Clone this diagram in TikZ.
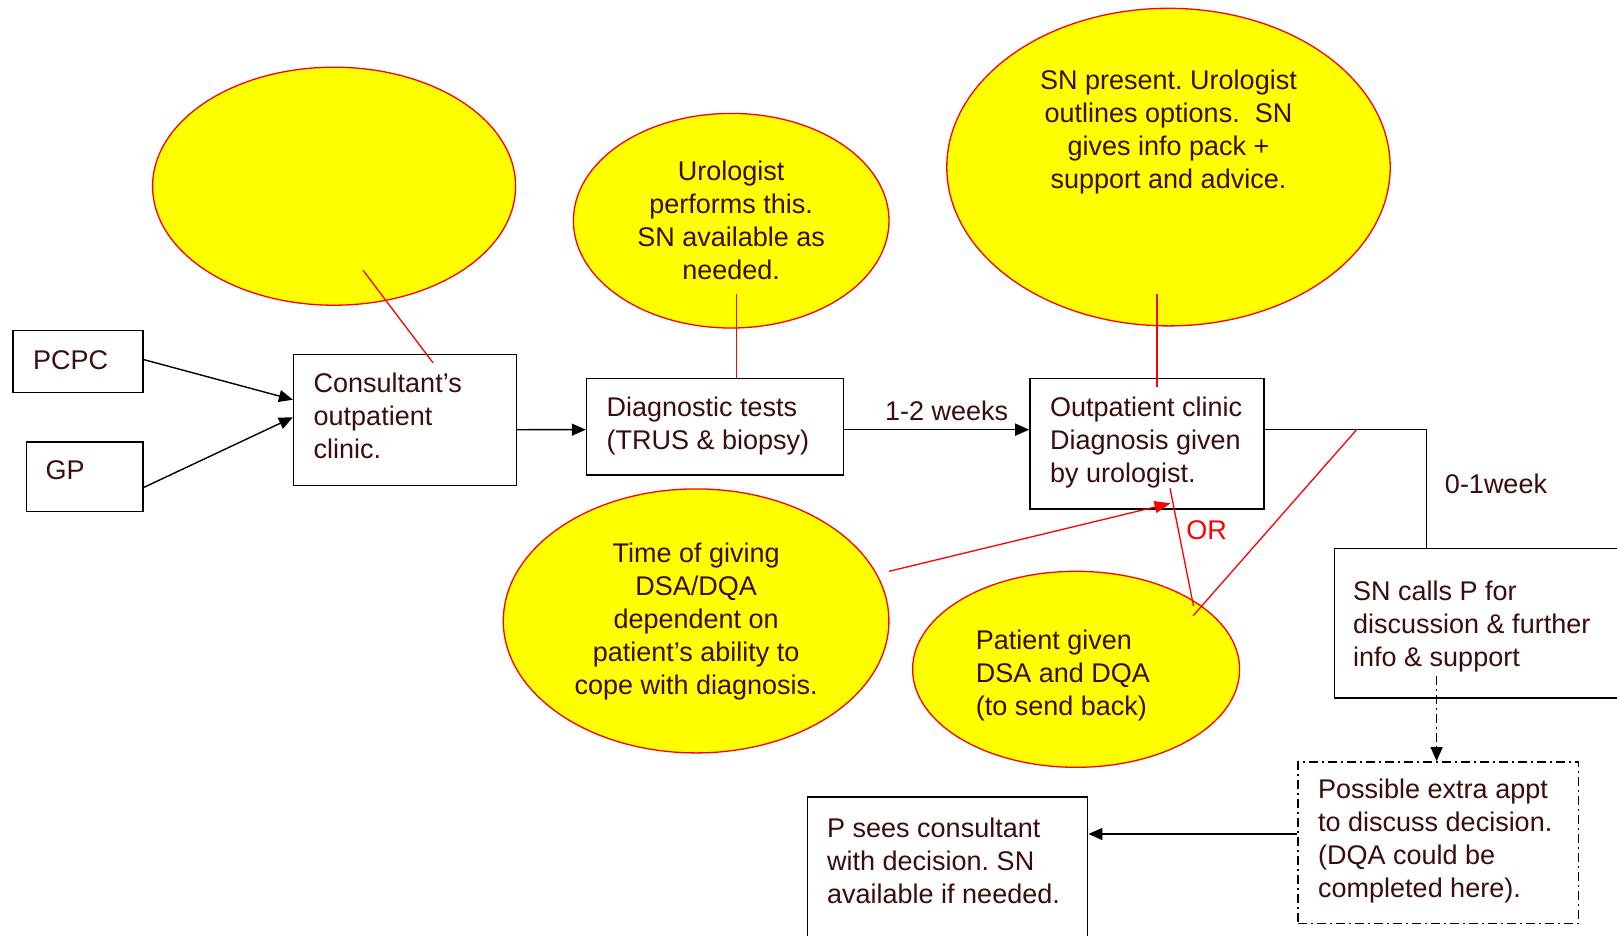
\documentclass[tikz,border=0pt]{standalone}
\usepackage{fontspec}
\setmainfont{Liberation Sans}
\usetikzlibrary{arrows.meta,shapes.geometric}
\definecolor{txt}{RGB}{60,12,12}
\definecolor{yel}{RGB}{255,255,0}
\newcommand\myfs{\fontsize{27}{33}\selectfont}
\frenchspacing
\begin{document}
\begin{tikzpicture}[x=1pt,y=-1pt,
  box/.style={draw=black, line width=1.4pt, rectangle, inner sep=0pt, anchor=north west},
  dbox/.style={box, dash pattern=on 9pt off 4pt on 2pt off 4pt},
  lbl/.style={text=txt, font=\myfs, inner sep=0pt, align=left, anchor=west},
  ctext/.style={text=txt, font=\myfs, inner sep=0pt, align=center},
  bubble/.style={ellipse, draw=red, fill=yel, line width=1.3pt, inner sep=0pt},
  arr/.style={-{Triangle[length=14pt,width=12pt]}, line width=1.4pt},
  redl/.style={red, line width=1.3pt},
]
\useasboundingbox (0,0) rectangle (1617,935);
\clip (0,0) rectangle (1617,935);
\fill[white] (0,0) rectangle (1617,935);

% bubbles
\node[bubble, minimum width=363pt, minimum height=238pt] (e1) at (334.1,186.2) {};
\node[bubble, minimum width=315.6pt, minimum height=214.6pt] (e2) at (731.2,220.7) {};
\node[bubble, minimum width=443.4pt, minimum height=317.6pt] (e3) at (1168.5,167.1) {};
\node[bubble, minimum width=385.6pt, minimum height=264pt] (e4) at (696.1,620.9) {};
\node[bubble, minimum width=327pt, minimum height=196pt] (e5) at (1076.1,669.3) {};

\node[ctext] (e2t) at (731.2,220.5) {Urologist\\performs this.\\SN available as\\needed.};
\node[ctext] (e3t) at (1168.5,131.9) {SN present. Urologist\\outlines options.\ \ SN\\gives info pack +\\support and advice.};
\node[ctext] (e4t) at (696.1,621.8) {Time of giving\\DSA/DQA\\dependent on\\patient’s ability to\\cope with diagnosis.};
\node[lbl] (e5t) at (975.6,675.4) {Patient given\\DSA and DQA\\(to send back)};

% boxes
\node[box, minimum width=129.9pt, minimum height=62pt] (pcpc) at (12.4,330) {};
\node[lbl] (pcpcT) at (33,360) {PCPC};
\node[box, minimum width=116.5pt, minimum height=69.1pt] (gp) at (25.8,441.4) {};
\node[lbl] (gpT) at (45.4,470) {GP};
\node[box, minimum width=222.7pt, minimum height=131pt] (cons) at (292.9,353.7) {};
\node[lbl] (consT) at (313.5,415.6) {Consultant’s\\outpatient\\clinic.};
\node[box, minimum width=256.8pt, minimum height=96.9pt] (diag) at (585.8,377.5) {};
\node[lbl] (diagT) at (606.4,426.4) {Diagnostic tests\\(TRUS \& biopsy)};
\node[box, minimum width=234.1pt, minimum height=130.9pt] (out) at (1029.2,377.5) {};
\node[lbl] (outT) at (1049.9,442.3) {Outpatient clinic\\Diagnosis given\\by urologist.};
\node[box, minimum width=320pt, minimum height=149.6pt] (sn) at (1333.5,547.6) {};
\node[lbl] (snT) at (1353,626.4) {SN calls P for\\discussion \& further\\info \& support};
\node[dbox, minimum width=280.5pt, minimum height=161.9pt] (extra) at (1297.4,761.1) {};
\node[lbl] (extraT) at (1318,841) {Possible extra appt\\to discuss decision.\\(DQA could be\\completed here).};
\node[box, minimum width=280.5pt, minimum height=170pt] (pbox) at (806.5,796.2) {};
\node[lbl] (pT) at (827,861) {P sees consultant\\with decision. SN\\available if needed.};

% labels
\node[ctext] (w12) at (946.7,411) {1-2 weeks};
\node[ctext] (w01) at (1496,483.5) {0-1week};
\node[ctext, text=red] (orl) at (1206.6,530.5) {OR};

% black connectors
\draw[arr] ([yshift=2.1pt]pcpc.east) -- ([yshift=20.2pt]cons.west);
\draw[arr] ([yshift=-10.8pt]gp.east) -- ([yshift=2.6pt]cons.west);
\draw[arr] ([yshift=-9.8pt]cons.east) -- ([yshift=-3pt]diag.west);
\draw[arr] ([yshift=-3pt]diag.east) -- ([yshift=14pt]out.west);
\coordinate (snTop) at (1426.3,547.6);
\draw[line width=1.4pt] ([yshift=14pt]out.east) -| (snTop);
\coordinate (dstart) at (1436.6,676);
\draw[arr, dash pattern=on 9pt off 4pt on 2pt off 4pt, line width=1.2pt] (dstart) -- (dstart |- extra.north);
\draw[arr] ([yshift=8.75pt]extra.west) coordinate (ew) -- (ew -| pbox.east);

% red connectors
\coordinate (r1a) at (363,270.2); \coordinate (r1b) at (433.2,363);
\draw[redl] (r1a) -- (r1b);
\coordinate (r2a) at (736.3,293.9);
\draw[redl] (r2a) -- (r2a |- diag.north);
\coordinate (r3a) at (1157.1,293.9); \coordinate (r3b) at (1157.1,386.7);
\draw[redl] (r3a) -- (r3b);
\coordinate (r4a) at (889,571.3); \coordinate (r4b) at (1170.5,503.3);
\draw[redl, -{Triangle[length=16pt,width=12pt]}] (r4a) -- (r4b);
\coordinate (r5a) at (1170,488.3); \coordinate (r5b) at (1193.5,606);
\draw[redl] (r5a) -- (r5b);
\coordinate (r6a) at (1357.2,429); \coordinate (r6b) at (1193.2,615.7);
\draw[redl] (r6a) -- (r6b);
\end{tikzpicture}
\end{document}
